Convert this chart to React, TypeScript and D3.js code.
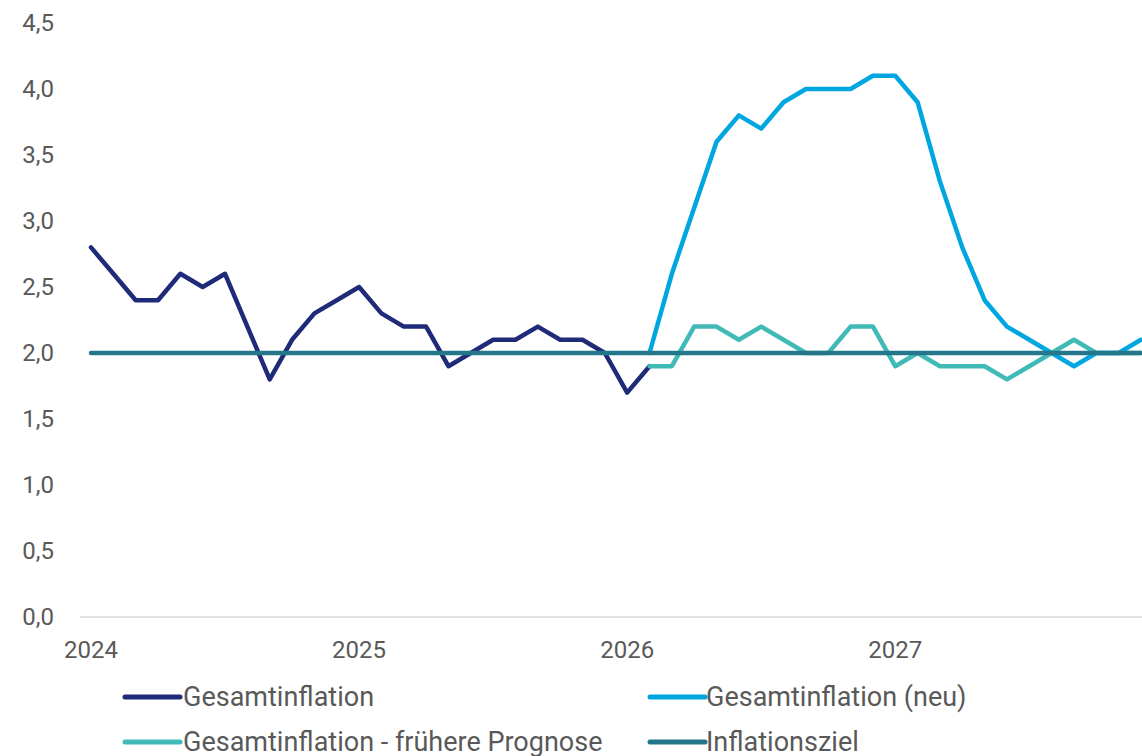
import React from "react";
import * as d3 from "d3";

const W = 1142;
const H = 756;

const months: Date[] = d3.timeMonths(new Date(2024, 0, 1), new Date(2028, 0, 1));
const yearTicks = ["2024", "2025", "2026", "2027"];
const yTicks = [0, 0.5, 1.0, 1.5, 2.0, 2.5, 3.0, 3.5, 4.0, 4.5];

// Jan 2024 – Feb 2026
const gesamt = [2.8, 2.6, 2.4, 2.4, 2.6, 2.5, 2.6, 2.2, 1.8, 2.1, 2.3, 2.4,
  2.5, 2.3, 2.2, 2.2, 1.9, 2.0, 2.1, 2.1, 2.2, 2.1, 2.1, 2.0,
  1.7, 1.9];
// Feb 2026 – Dec 2027
const gesamtNeu = [2.0, 2.6, 3.1, 3.6, 3.8, 3.7, 3.9, 4.0, 4.0, 4.0, 4.1,
  4.1, 3.9, 3.3, 2.8, 2.4, 2.2, 2.1, 2.0, 1.9, 2.0, 2.0, 2.1];
// Feb 2026 – Dec 2027
const frueher = [1.9, 1.9, 2.2, 2.2, 2.1, 2.2, 2.1, 2.0, 2.0, 2.2, 2.2,
  1.9, 2.0, 1.9, 1.9, 1.9, 1.8, 1.9, 2.0, 2.1, 2.0, 2.0, 2.0];
// Jan 2024 – Dec 2027
const ziel = [2.0, 2.0, 2.0, 2.0, 2.0, 2.0, 2.0, 2.0, 2.0, 2.0, 2.0, 2.0,
  2.0, 2.0, 2.0, 2.0, 2.0, 2.0, 2.0, 2.0, 2.0, 2.0, 2.0, 2.0,
  2.0, 2.0, 2.0, 2.0, 2.0, 2.0, 2.0, 2.0, 2.0, 2.0, 2.0, 2.0,
  2.0, 2.0, 2.0, 2.0, 2.0, 2.0, 2.0, 2.0, 2.0, 2.0, 2.0, 2.0];

const seriesNames = ["Gesamtinflation", "Gesamtinflation (neu)", "Gesamtinflation - frühere Prognose", "Inflationsziel"];
const seriesColors = ["#1f2a78", "#00a6e0", "#40bab7", "#24778b"];

const FONT = "Roboto, sans-serif";
const TEXT = "#595959";

export default function App() {
  const x = d3.scaleLinear().domain([0, months.length - 1]).range([91, 1141]);
  const y = d3.scaleLinear().domain([0, 4.5]).range([617, 23]);

  const series = [
    { values: gesamt, start: 0 },
    { values: gesamtNeu, start: 25 },
    { values: frueher, start: 25 },
    { values: ziel, start: 0 },
  ];

  const legend = [
    { i: 0, sx: 125, tx: 183, ly: 697 },
    { i: 1, sx: 650, tx: 706, ly: 697 },
    { i: 2, sx: 125, tx: 183, ly: 742 },
    { i: 3, sx: 650, tx: 706, ly: 742 },
  ];

  return (
    <svg
      width={W}
      height={H}
      style={{ position: "fixed", left: 0, top: 0, background: "#fff" }}
      fontFamily={FONT}
    >
      <rect x={0} y={0} width={W} height={H} fill="#fff" />
      {yTicks.map((t) => (
        <text
          key={t}
          x={54}
          y={y(t)}
          textAnchor="end"
          dominantBaseline="central"
          fontSize={24}
          fill={TEXT}
        >
          {d3.format(".1f")(t).replace(".", ",")}
        </text>
      ))}
      <line x1={80} x2={W} y1={y(0)} y2={y(0)} stroke="#d9d9d9" strokeWidth={1.5} />
      {yearTicks.map((lab, k) => (
        <text
          key={lab}
          x={x(k * 12)}
          y={650}
          textAnchor="middle"
          dominantBaseline="central"
          fontSize={24}
          fill={TEXT}
        >
          {lab}
        </text>
      ))}
      {series.map((s, k) => {
        const l = d3
          .line<number>()
          .x((_, i) => x(i + s.start))
          .y((d) => y(d));
        return (
          <path
            key={k}
            d={l(s.values) || ""}
            fill="none"
            stroke={seriesColors[k]}
            strokeWidth={4.5}
            strokeLinejoin="round"
            strokeLinecap="round"
          />
        );
      })}
      {legend.map((lg) => (
        <g key={lg.i}>
          <line
            x1={lg.sx}
            x2={lg.sx + 55}
            y1={lg.ly}
            y2={lg.ly}
            stroke={seriesColors[lg.i]}
            strokeWidth={5}
            strokeLinecap="round"
          />
          <text
            x={lg.tx}
            y={lg.ly}
            dominantBaseline="central"
            fontSize={27}
            fill={TEXT}
          >
            {seriesNames[lg.i]}
          </text>
        </g>
      ))}
    </svg>
  );
}
